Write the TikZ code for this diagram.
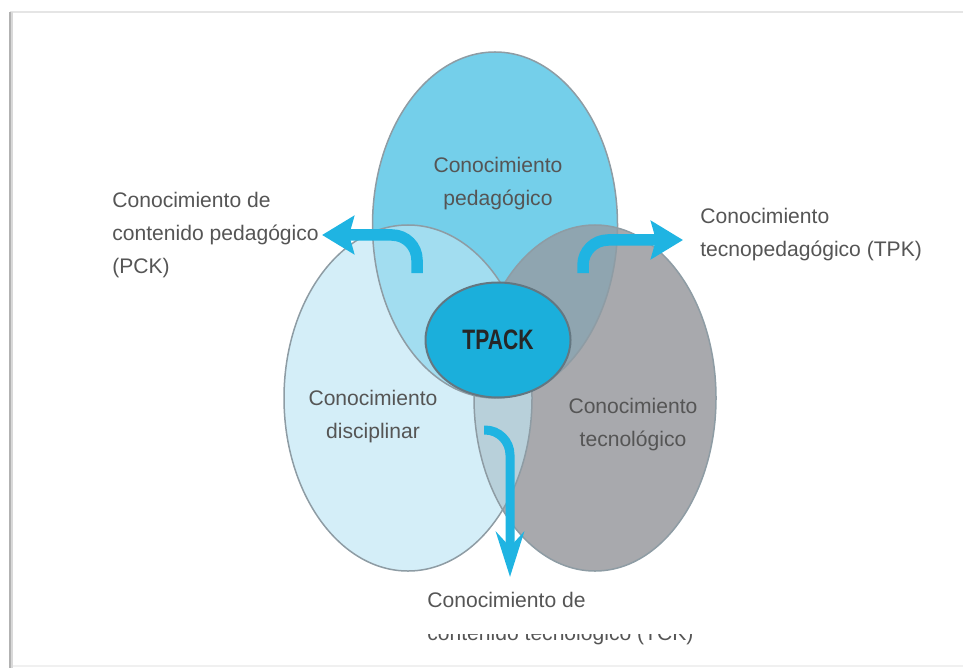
\documentclass[tikz,border=0pt]{standalone}
\usepackage{fontspec}
\setmainfont{Liberation Sans}
\newfontfamily\tpackfont{Liberation Sans}[FakeStretch=0.75]
\usetikzlibrary{shapes.geometric,arrows.meta}

\definecolor{pedC}{HTML}{74CFEA}
\definecolor{disC}{HTML}{D4EEF8}
\definecolor{tecC}{HTML}{A8A9AD}
\definecolor{pedDisC}{HTML}{A2DDF0}
\definecolor{pedTecC}{HTML}{8FA5B0}
\definecolor{disTecC}{HTML}{B8D0DA}
\definecolor{allC}{HTML}{8AA2AD}
\definecolor{tpackC}{HTML}{1BAFDB}
\definecolor{flowC}{HTML}{1FB4E2}
\definecolor{lineC}{HTML}{8E9CA4}
\definecolor{txtC}{HTML}{555555}

\begin{document}
\begin{tikzpicture}[x=0.2mm,y=-0.2mm]
	\tikzstyle{venn}=[ellipse,draw=none,inner sep=0pt]
	\tikzstyle{rim}=[draw=lineC,line width=0.3mm]
	\tikzstyle{lbl}=[text=txtC,font=\fontsize{12}{18.8}\selectfont,inner sep=0pt]
	\tikzstyle{flow}=[draw=flowC,line width=2.3mm,rounded corners=5mm,
		-{Stealth[length=6.4mm,width=7.6mm,inset=1mm]}]

	\useasboundingbox (0,0) rectangle (963,668);
	% frame
	\draw[gray!20,line width=0.3mm] (10,12) -- (963,12);
	\draw[gray!12,line width=0.3mm] (10,666) -- (963,666);
	\draw[gray!30,line width=0.8mm] (11,12) -- (11,668);
	\draw[gray!60,line width=0.3mm] (10,12) -- (10,668);

	% the three circles
	\node [venn,fill=pedC,minimum width=4.9cm,minimum height=6.92cm] (ped) at (495,225) {};
	\node [venn,fill=disC,minimum width=4.96cm,minimum height=6.92cm] (dis) at (408,398) {};
	\node [venn,fill=tecC,minimum width=4.84cm,minimum height=6.92cm] (tec) at (595,398) {};

	% overlaps
	\begin{scope}
		\clip (495,225) ellipse [x radius=2.45cm,y radius=3.46cm];
		\fill[pedDisC] (408,398) ellipse [x radius=2.48cm,y radius=3.46cm];
		\fill[pedTecC] (595,398) ellipse [x radius=2.42cm,y radius=3.46cm];
	\end{scope}
	\begin{scope}
		\clip (408,398) ellipse [x radius=2.48cm,y radius=3.46cm];
		\fill[disTecC] (595,398) ellipse [x radius=2.42cm,y radius=3.46cm];
		\clip (495,225) ellipse [x radius=2.45cm,y radius=3.46cm];
		\fill[allC] (595,398) ellipse [x radius=2.42cm,y radius=3.46cm];
	\end{scope}

	\draw[rim] (495,225) ellipse [x radius=2.45cm,y radius=3.46cm];
	\draw[rim] (408,398) ellipse [x radius=2.48cm,y radius=3.46cm];
	\draw[rim] (595,398) ellipse [x radius=2.42cm,y radius=3.46cm];

	\node [ellipse,fill=tpackC,draw=black!60!cyan!60!gray,line width=0.4mm,
		minimum width=2.9cm,minimum height=2.3cm,
		font=\tpackfont\bfseries\fontsize{16}{18}\selectfont,text=black!85] (tpack) at (498,340) {TPACK};

	% labels
	\node [lbl,align=center] (pedTxt) at (498,184) {Conocimiento\\pedagógico};
	\node [lbl,align=center] (disTxt) at (373,417) {Conocimiento\\disciplinar};
	\node [lbl,align=center] (tecTxt) at (633,425) {Conocimiento\\tecnológico};
	\node [lbl,align=left,anchor=west] (pck) at (112,235) {Conocimiento de\\contenido pedagógico\\(PCK)};
	\node [lbl,align=left,anchor=west] (tpk) at (700,235) {Conocimiento\\tecnopedagógico (TPK)};
	\node [lbl,align=left,anchor=north west] (tck) at (427,592) {Conocimiento de\\contenido tecnológico (TCK)};
	\fill[white] (415,612) rectangle (700,634);

	% arrows
	\coordinate (pckS) at (417,273);
	\coordinate (tpkS) at (583,273);
	\coordinate (tckS) at (484,430);
	\coordinate (tckE) at (510,577);
	\draw[flow] (pckS) |- ([xshift=0.6mm]pck.east);
	\draw[flow] (tpkS) |- ([xshift=-3.4mm,yshift=-1mm]tpk.west);
	\draw[flow,line width=1.8mm,-{Stealth[length=9mm,width=5.6mm,inset=3mm]}] (tckS) -| (tckE);
\end{tikzpicture}
\end{document}
